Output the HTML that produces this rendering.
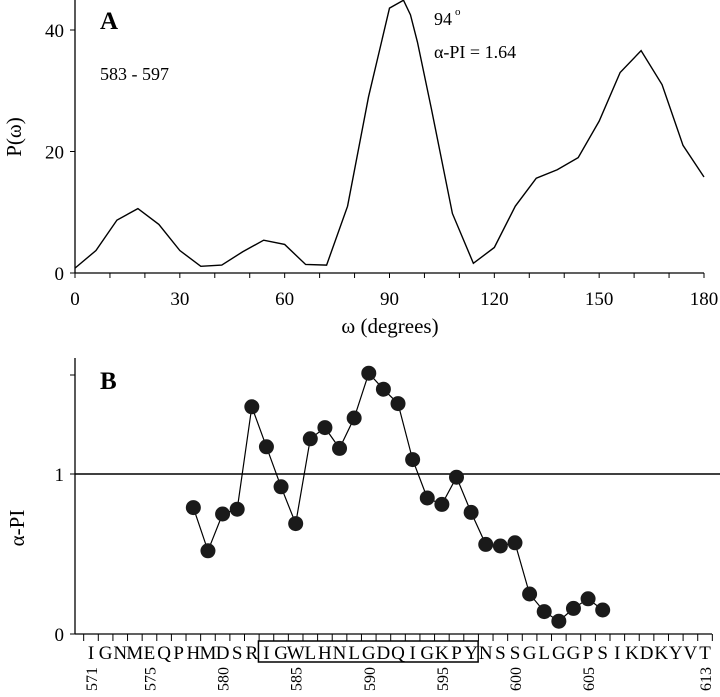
<!DOCTYPE html>
<html><head><meta charset="utf-8"><style>
body{margin:0;background:#fff}
svg text{font-family:"Liberation Serif",serif;fill:#000}
</style></head><body>
<svg id="c" width="720" height="692" viewBox="0 0 720 692" xmlns="http://www.w3.org/2000/svg"></svg>
<script>
const omega=[0,6,12,18,24,30,36,42,48,54,60,66,72,78,84,90,94,96,98,102,108,114,120,126,132,138,144,150,156,162,168,174,180];
const power=[0.8,3.7,8.7,10.6,8,3.7,1.1,1.3,3.5,5.4,4.7,1.4,1.3,11,29,43.6,44.9,42.5,38,27,9.8,1.6,4.2,11,15.6,17,19,25,33,36.6,31,21,15.8];
const xTicksA=[0,30,60,90,120,150,180];
const yTicksA=[0,20,40];
const residues=[578,579,580,581,582,583,584,585,586,587,588,589,590,591,592,593,594,595,596,597,598,599,600,601,602,603,604,605,606];
const alphaPI=[0.79,0.52,0.75,0.78,1.42,1.17,0.92,0.69,1.22,1.29,1.16,1.35,1.63,1.53,1.44,1.09,0.85,0.81,0.98,0.76,0.56,0.55,0.57,0.25,0.14,0.08,0.16,0.22,0.15];
const seq="IGNMEQPHMDSRIGWLHNLGDQIGKPYNSSGLGGPSIKDKYVT".split("");
const resLabels=[571,575,580,585,590,595,600,605,613];
const yTicksB=[0,1];
const svg=document.getElementById('c');
const NS="http://www.w3.org/2000/svg";
function mk(t,a,p){const e=document.createElementNS(NS,t);for(const k in a)e.setAttribute(k,a[k]);(p||svg).appendChild(e);return e;}
function tx(x,y,s,size,extra){const e=mk('text',Object.assign({x:x,y:y,'font-size':size},extra||{}));e.textContent=s;return e;}
// Panel A
const xA=v=>75+v*(629/180), yA=v=>273-v*6.075;
mk('line',{x1:75,y1:0,x2:75,y2:273,stroke:'#000','stroke-width':1.3});
mk('line',{x1:75,y1:273,x2:704,y2:273,stroke:'#000','stroke-width':1.3});
for(let v=0;v<=180;v+=10){mk('line',{x1:xA(v),y1:273,x2:xA(v),y2:278,stroke:'#000'});}
xTicksA.forEach(v=>{const t=tx(xA(v),305,v,19,{'text-anchor':'middle'});});
yTicksA.forEach(v=>{mk('line',{x1:70,y1:yA(v),x2:75,y2:yA(v),stroke:'#000'});const t=tx(64,yA(v)+7,v,19,{'text-anchor':'end'});});
const lineA=mk('polyline',{points:omega.map((o,i)=>xA(o)+','+yA(power[i])).join(' '),fill:'none',stroke:'#000','stroke-width':1.4});

let t;
t=tx(100,29,'A',25,{'font-weight':'bold'});
t=tx(100,80,'583 - 597',18,{'font-family':'Liberation Sans'});
t=tx(434,25,'94',18,{'font-family':'Liberation Sans'});
tx(455,15,'o',11,{'font-family':'Liberation Sans'});
t=tx(434,58,'α-PI = 1.64',18,{'font-family':'Liberation Sans'});
t=tx(21,137,'P(ω)',21,{'text-anchor':'middle',transform:'rotate(-90 21 137)'});
t=tx(390,333,'ω (degrees)',21,{'text-anchor':'middle'});
// Panel B
const xB=r=>91+(r-571)*14.62, yB=v=>634-v*160;
mk('line',{x1:75,y1:358,x2:75,y2:634,stroke:'#000','stroke-width':1.3});
mk('line',{x1:75,y1:634,x2:712,y2:634,stroke:'#000','stroke-width':1.3});
for(let r=570;r<=613;r++){mk('line',{x1:xB(r)+7.3,y1:634,x2:xB(r)+7.3,y2:641,stroke:'#000'});}
yTicksB.forEach(v=>{mk('line',{x1:70,y1:yB(v),x2:75,y2:yB(v),stroke:'#000'});const e=tx(64,yB(v)+7,v,19,{'text-anchor':'end'});});
mk('line',{x1:70,y1:375,x2:75,y2:375,stroke:'#000'});
const ref=mk('line',{x1:75,y1:yB(1),x2:720,y2:yB(1),stroke:'#000','stroke-width':1.5});

const lineB=mk('polyline',{points:residues.map((r,i)=>xB(r)+','+yB(alphaPI[i])).join(' '),fill:'none',stroke:'#000','stroke-width':1.2});

residues.forEach((r,i)=>{const c=mk('circle',{cx:xB(r),cy:yB(alphaPI[i]),r:7.5,fill:'#1a1a1a'});

});
t=tx(100,389,'B',25,{'font-weight':'bold'});
t=tx(24,528,'α-PI',21,{'text-anchor':'middle',transform:'rotate(-90 24 528)'});
seq.forEach((s,i)=>{const e=tx(xB(571+i),659,s,19,{'text-anchor':'middle'});});
const box=mk('rect',{x:xB(583)-8,y:641,width:xB(597)-xB(583)+15,height:21,fill:'none',stroke:'#000','stroke-width':1.5});

resLabels.forEach(r=>{const x=xB(r)+6,y=691;const e=tx(x,y,r,16,{transform:`rotate(-90 ${x} ${y})`});});
</script>
</body></html>
